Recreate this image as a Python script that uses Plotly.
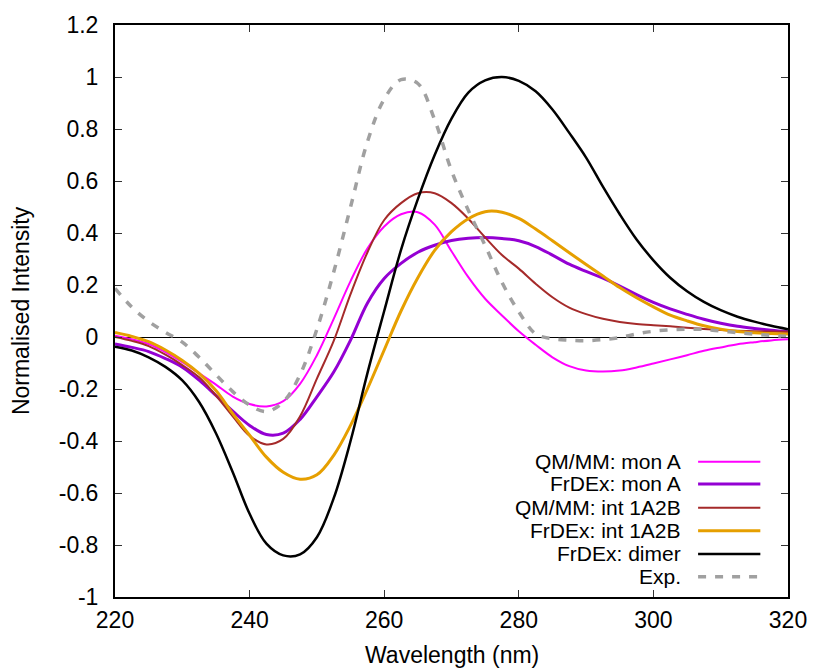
import plotly.graph_objects as go

# ---- spectra: wavelength grid (nm) and normalised intensities ----
wavelength = [220, 222.5, 225, 227.5, 230, 232.5, 235, 237.5, 240, 242.5, 245, 247.5, 250,
              252.5, 255, 257.5, 260, 262.5, 265, 267.5, 270, 272.5, 275, 277.5, 280, 282.5,
              285, 287.5, 290, 292.5, 295, 297.5, 300, 302.5, 305, 307.5, 310, 312.5, 315,
              317.5, 320]

qmmm_monA = [0.005, -0.009, -0.027, -0.058, -0.097, -0.14, -0.183, -0.229, -0.258, -0.267,
             -0.247, -0.18, -0.07, 0.07, 0.215, 0.34, 0.425, 0.472, 0.48, 0.432, 0.33, 0.23,
             0.147, 0.083, 0.022, -0.03, -0.078, -0.112, -0.129, -0.133, -0.129, -0.117,
             -0.102, -0.086, -0.07, -0.053, -0.04, -0.028, -0.02, -0.013, -0.009]

frdex_monA = [-0.027, -0.04, -0.056, -0.083, -0.116, -0.166, -0.225, -0.285, -0.34, -0.375,
              -0.37, -0.317, -0.23, -0.135, -0.012, 0.13, 0.225, 0.283, 0.326, 0.353, 0.371,
              0.38, 0.383, 0.379, 0.37, 0.348, 0.315, 0.28, 0.252, 0.226, 0.196, 0.163, 0.133,
              0.108, 0.087, 0.068, 0.053, 0.041, 0.033, 0.026, 0.02]

qmmm_int = [0.0, -0.015, -0.035, -0.068, -0.108, -0.155, -0.225, -0.305, -0.38, -0.413,
            -0.392, -0.305, -0.16, -0.015, 0.165, 0.325, 0.45, 0.515, 0.553, 0.553, 0.515,
            0.455, 0.383, 0.315, 0.263, 0.205, 0.153, 0.113, 0.088, 0.07, 0.058, 0.05, 0.045,
            0.041, 0.036, 0.031, 0.027, 0.024, 0.022, 0.021, 0.02]

frdex_int = [0.017, 0.002, -0.018, -0.05, -0.09, -0.14, -0.206, -0.295, -0.378, -0.462, -0.52,
             -0.547, -0.53, -0.455, -0.34, -0.2, -0.05, 0.1, 0.228, 0.333, 0.405, 0.455, 0.482,
             0.48, 0.456, 0.415, 0.37, 0.324, 0.279, 0.235, 0.19, 0.151, 0.116, 0.084, 0.062,
             0.043, 0.03, 0.021, 0.016, 0.013, 0.012]

frdex_dimer = [-0.037, -0.052, -0.078, -0.115, -0.167, -0.25, -0.37, -0.52, -0.68, -0.795,
               -0.84, -0.836, -0.77, -0.62, -0.40, -0.14, 0.10, 0.335, 0.53, 0.70, 0.84,
               0.94, 0.987, 1.0, 0.985, 0.945, 0.875, 0.785, 0.69, 0.578, 0.472, 0.375, 0.295,
               0.228, 0.176, 0.135, 0.103, 0.078, 0.059, 0.043, 0.03]

experiment = [0.187, 0.115, 0.06, 0.018, -0.02, -0.078, -0.145, -0.21, -0.262, -0.287, -0.25,
              -0.145, 0.03, 0.25, 0.5, 0.75, 0.915, 0.99, 0.975, 0.835, 0.64, 0.487, 0.352,
              0.21, 0.097, 0.012, -0.007, -0.012, -0.014, -0.01, -0.002, 0.012, 0.022, 0.028,
              0.03, 0.029, 0.023, 0.017, 0.011, 0.006, 0.002]

labels = ["QM/MM: mon A", "FrDEx: mon A", "QM/MM: int 1A2B", "FrDEx: int 1A2B",
          "FrDEx: dimer", "Exp."]
colors = ["#ff00ff", "#9400d3", "#a52a2a", "#e69f00", "#000000", "#a0a0a0"]
widths = [2, 3, 2, 3, 2.5, 3.5]
dashes = ["solid", "solid", "solid", "solid", "solid", "8px,9px"]

x_ticks = [220, 240, 260, 280, 300, 320]
x_ticktext = ["220", "240", "260", "280", "300", "320"]
y_ticks = [-1, -0.8, -0.6, -0.4, -0.2, 0, 0.2, 0.4, 0.6, 0.8, 1, 1.2]
y_ticktext = ["-1", "-0.8", "-0.6", "-0.4", "-0.2", "0", "0.2", "0.4", "0.6", "0.8", "1", "1.2"]

series = [qmmm_monA, frdex_monA, qmmm_int, frdex_int, frdex_dimer, experiment]

FONT = "Liberation Sans, Arial, Helvetica, sans-serif"
fig = go.Figure()
for ys, name, c, w, d in zip(series, labels, colors, widths, dashes):
    fig.add_trace(go.Scatter(
        x=wavelength, y=ys, name=name, mode="lines",
        line=dict(color=c, width=w, dash=d, shape="spline", smoothing=1.0),
        showlegend=False,
    ))

# key in the lower right: text right-aligned, line sample to its right
key_rows_y = [0.2365, 0.1976, 0.1561, 0.1159, 0.0752, 0.0355]
for name, c, w, d, yk in zip(labels, colors, widths, dashes, key_rows_y):
    fig.add_annotation(x=0.8443, y=yk, xref="paper", yref="paper", text=name,
                       showarrow=False, xanchor="right", yanchor="middle",
                       font=dict(family=FONT, size=21, color="black"))
    fig.add_shape(type="line", xref="paper", yref="paper",
                  x0=0.8664, x1=0.9589, y0=yk, y1=yk,
                  line=dict(color=c, width=w, dash=d))

axis_common = dict(
    showline=True, linecolor="black", linewidth=2, mirror="ticks",
    ticks="inside", ticklen=7, tickwidth=1, tickcolor="#333",
    showgrid=False, tickfont=dict(family=FONT, size=23, color="black"),
)
fig.update_xaxes(range=[220, 320], tickvals=x_ticks, ticktext=x_ticktext,
                 zeroline=False, ticklabelstandoff=1, **axis_common)
fig.update_yaxes(range=[-1, 1.2], tickvals=y_ticks, ticktext=y_ticktext,
                 zeroline=True, zerolinecolor="black", zerolinewidth=1,
                 ticklabelstandoff=10, **axis_common)

fig.add_annotation(x=0.5, y=-0.1014, xref="paper", yref="paper", text="Wavelength (nm)",
                   showarrow=False, xanchor="center", yanchor="middle",
                   font=dict(family=FONT, size=23, color="black"))
fig.add_annotation(x=-0.1395, y=0.5, xref="paper", yref="paper", text="Normalised Intensity",
                   showarrow=False, textangle=-90, xanchor="center", yanchor="middle",
                   font=dict(family=FONT, size=23, color="black"))

fig.update_layout(
    width=819, height=668,
    margin=dict(l=115, r=23, t=25, b=71),
    paper_bgcolor="white", plot_bgcolor="white",
)

fig.write_html("out.html")
